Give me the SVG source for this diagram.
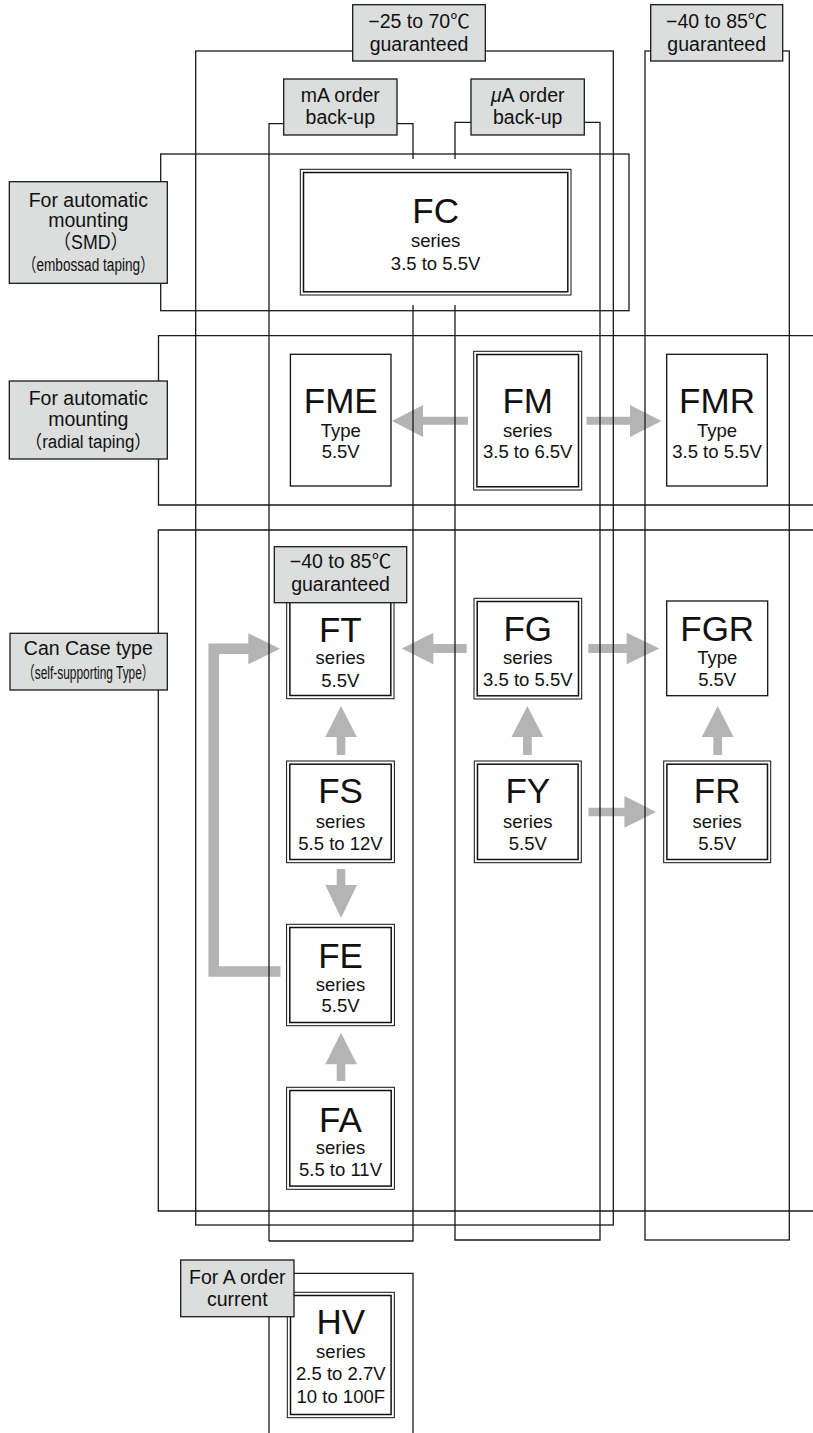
<svg xmlns="http://www.w3.org/2000/svg" width="813" height="1433" viewBox="0 0 813 1433">
<style>
text{font-family:"Liberation Sans",Arial,"Noto Sans CJK JP",sans-serif;fill:#111;text-anchor:middle}
.ln{fill:none;stroke:#1a1a1a;stroke-width:1.3}
.lbl{fill:#dcdddd;stroke:#1a1a1a;stroke-width:1.3}
.lt{font-size:19.5px}
.nt{font-size:18px}
.o{fill:#fff;stroke:#111;stroke-width:1}
.i{fill:none;stroke:#111;stroke-width:1.5}
.s{fill:#fff;stroke:#111;stroke-width:1.3}
.big{font-size:35px}
.sm{font-size:18.5px}
.arr{fill:#b4b4b4}
</style>
<rect width="813" height="1433" fill="#fff"/>

<g id="rows">
  <rect class="ln" x="160.7" y="154" width="468.3" height="156.7"/>
  <path class="ln" d="M815,335.7 H158.5 V505 H815"/>
  <path class="ln" d="M815,530 H158.3 V1211 H815"/>
</g>

<g id="connectors">
  <polygon class="arr" points="468,416.7 423,416.7 423,405 392,421 423,437 423,424.7 468,424.7"/>
  <polygon class="arr" points="586.5,416.7 630,416.7 630,405 661.5,421 630,437 630,424.7 586.5,424.7"/>
  <polygon class="arr" points="466.7,644 433.3,644 433.3,632.7 401.7,648.5 433.3,664.3 433.3,653 466.7,653"/>
  <polygon class="arr" points="588.3,644 626.7,644 626.7,632.7 659.3,648.5 626.7,664.3 626.7,653 588.3,653"/>
  <polygon class="arr" points="336.7,755 336.7,737 325.3,737 341,706 356.9,737 345.3,737 345.3,755"/>
  <polygon class="arr" points="523,755 523,737 511.5,737 527.4,706 543.3,737 531.8,737 531.8,755"/>
  <polygon class="arr" points="713.3,755 713.3,737 701.8,737 717.7,706 733.6,737 722.1,737 722.1,755"/>
  <polygon class="arr" points="588.5,807.8 624.4,807.8 624.4,796 656,812 624.4,827.8 624.4,816.2 588.5,816.2"/>
  <polygon class="arr" points="336.7,869 345.3,869 345.3,885 357,885 341,918 325.3,885 336.7,885"/>
  <polygon class="arr" points="336.7,1081 336.7,1064.3 325.3,1064.3 341,1032.7 357,1064.3 345.3,1064.3 345.3,1081"/>
  <path d="M280.5,971.5 H213.7 V648.8 H249" fill="none" stroke="#b4b4b4" stroke-width="10.5" stroke-linejoin="miter"/>
  <polygon class="arr" points="248.3,633.3 280,648.8 248.3,664.3"/>
</g>

<g id="frames">
  <rect class="ln" x="195.7" y="51" width="417.6" height="1174"/>
  <path class="ln" d="M269,1241 V123.7 H413 V159 M413,305 V1241 H269"/>
  <path class="ln" d="M455,159 V122.3 H600 V1240 H455 V305"/>
  <rect class="ln" x="645" y="51" width="144.3" height="1189"/>
  <path class="ln" d="M269,1440 V1273.3 H413 V1440"/>
</g>

<g id="node-FC">
  <rect class="o" x="300.3" y="169.3" width="270.7" height="125.7"/>
  <rect class="i" x="303.5" y="172.5" width="264.3" height="119.3"/>
  <text class="big" x="435.6" y="223.3">FC</text>
  <text class="sm" x="435.6" y="246.7">series</text>
  <text class="sm" x="435.6" y="270">3.5 to 5.5V</text>
</g>
<g id="node-FME">
  <rect class="s" x="290.4" y="354.3" width="100.6" height="131.7"/>
  <text class="big" x="340.7" y="413.3">FME</text>
  <text class="sm" x="340.7" y="436.7">Type</text>
  <text class="sm" x="340.7" y="458.3">5.5V</text>
</g>
<g id="node-FM">
  <rect class="o" x="473.7" y="351.3" width="108" height="138.7"/>
  <rect class="i" x="476.9" y="354.5" width="101.6" height="132.3"/>
  <text class="big" x="527.7" y="413.3">FM</text>
  <text class="sm" x="527.7" y="436.7">series</text>
  <text class="sm" x="527.7" y="458.3">3.5 to 6.5V</text>
</g>
<g id="node-FMR">
  <rect class="s" x="666.7" y="354.3" width="100.6" height="131.7"/>
  <text class="big" x="717" y="413.3">FMR</text>
  <text class="sm" x="717" y="436.7">Type</text>
  <text class="sm" x="717" y="458.3">3.5 to 5.5V</text>
</g>
<g id="node-FT">
  <rect class="o" x="286.7" y="596" width="107.3" height="102.7"/>
  <rect class="i" x="289.9" y="599.2" width="100.9" height="96.3"/>
  <text class="big" x="340.3" y="641.7">FT</text>
  <text class="sm" x="340.3" y="664">series</text>
  <text class="sm" x="340.3" y="686.7">5.5V</text>
</g>
<g id="node-FG">
  <rect class="o" x="474" y="598.3" width="107.7" height="100.7"/>
  <rect class="i" x="477.2" y="601.5" width="101.3" height="94.3"/>
  <text class="big" x="527.8" y="640.7">FG</text>
  <text class="sm" x="527.8" y="664">series</text>
  <text class="sm" x="527.8" y="685.7">3.5 to 5.5V</text>
</g>
<g id="node-FGR">
  <rect class="s" x="666.7" y="601" width="101" height="94.7"/>
  <text class="big" x="717.2" y="640.7">FGR</text>
  <text class="sm" x="717.2" y="664">Type</text>
  <text class="sm" x="717.2" y="685.7">5.5V</text>
</g>
<g id="node-FS">
  <rect class="o" x="286.6" y="761" width="107.8" height="101.7"/>
  <rect class="i" x="289.8" y="764.2" width="101.4" height="95.3"/>
  <text class="big" x="340.5" y="803.3">FS</text>
  <text class="sm" x="340.5" y="828.3">series</text>
  <text class="sm" x="340.5" y="850">5.5 to 12V</text>
</g>
<g id="node-FY">
  <rect class="o" x="474.3" y="761" width="107" height="101.7"/>
  <rect class="i" x="477.5" y="764.2" width="100.6" height="95.3"/>
  <text class="big" x="527.8" y="803.3">FY</text>
  <text class="sm" x="527.8" y="828.3">series</text>
  <text class="sm" x="527.8" y="850">5.5V</text>
</g>
<g id="node-FR">
  <rect class="o" x="663.7" y="761" width="107" height="101.7"/>
  <rect class="i" x="666.9" y="764.2" width="100.6" height="95.3"/>
  <text class="big" x="717.2" y="803.3">FR</text>
  <text class="sm" x="717.2" y="828.3">series</text>
  <text class="sm" x="717.2" y="850">5.5V</text>
</g>
<g id="node-FE">
  <rect class="o" x="286.6" y="924.3" width="107.8" height="101.4"/>
  <rect class="i" x="289.8" y="927.5" width="101.4" height="95"/>
  <text class="big" x="340.5" y="968.3">FE</text>
  <text class="sm" x="340.5" y="991">series</text>
  <text class="sm" x="340.5" y="1012.3">5.5V</text>
</g>
<g id="node-FA">
  <rect class="o" x="286.6" y="1087.3" width="107.8" height="102"/>
  <rect class="i" x="289.8" y="1090.5" width="101.4" height="95.6"/>
  <text class="big" x="340.5" y="1131.7">FA</text>
  <text class="sm" x="340.5" y="1154">series</text>
  <text class="sm" x="340.5" y="1176">5.5 to 11V</text>
</g>
<g id="node-HV">
  <rect class="o" x="287.3" y="1292.3" width="107" height="125.4"/>
  <rect class="i" x="290.5" y="1295.5" width="100.6" height="119"/>
  <text class="big" x="340.8" y="1334.3">HV</text>
  <text class="sm" x="340.8" y="1358.3">series</text>
  <text class="sm" x="340.8" y="1380">2.5 to 2.7V</text>
  <text class="sm" x="340.8" y="1402.7">10 to 100F</text>
</g>

<g id="label-temp-25-70">
  <rect class="lbl" x="352.7" y="4.7" width="132.6" height="56.3"/>
  <text class="lt" x="419" y="28.3">−25 to 70℃</text>
  <text class="lt" x="419" y="50.5">guaranteed</text>
</g>
<g id="label-temp-40-85">
  <rect class="lbl" x="650.7" y="4.7" width="132" height="56.3"/>
  <text class="lt" x="716.7" y="28.3">−40 to 85℃</text>
  <text class="lt" x="716.7" y="50.5">guaranteed</text>
</g>
<g id="label-mA">
  <rect class="lbl" x="283.7" y="79" width="113.3" height="56"/>
  <text class="lt" x="340.3" y="101.7">mA order</text>
  <text class="lt" x="340.3" y="124">back-up</text>
</g>
<g id="label-uA">
  <rect class="lbl" x="471" y="79" width="113.3" height="56"/>
  <text class="lt" x="527.7" y="101.7"><tspan font-style="italic">μ</tspan>A order</text>
  <text class="lt" x="527.7" y="124">back-up</text>
</g>
<g id="label-SMD">
  <rect class="lbl" x="9.3" y="181.7" width="158" height="101.6"/>
  <text class="lt" x="88.3" y="206.5">For automatic</text>
  <text class="lt" x="88.3" y="227">mounting</text>
  <text class="lt" x="90.8" y="249" textLength="75" lengthAdjust="spacingAndGlyphs">（SMD）</text>
  <text class="nt" x="88.3" y="270.5" textLength="131" lengthAdjust="spacingAndGlyphs">（embossad taping）</text>
</g>
<g id="label-radial">
  <rect class="lbl" x="9.3" y="381" width="158" height="78"/>
  <text class="lt" x="88.3" y="405">For automatic</text>
  <text class="lt" x="88.3" y="426">mounting</text>
  <text class="nt" x="88.3" y="448" textLength="126" lengthAdjust="spacingAndGlyphs">（radial taping）</text>
</g>
<g id="label-can">
  <rect class="lbl" x="10" y="633.3" width="157.3" height="56.7"/>
  <text class="lt" x="88.3" y="655">Can Case type</text>
  <text class="nt" x="88.3" y="679.3" textLength="131" lengthAdjust="spacingAndGlyphs">（self-supporting Type）</text>
</g>
<g id="label-FT-temp">
  <rect class="lbl" x="274.3" y="546.7" width="132.4" height="56"/>
  <text class="lt" x="340.5" y="568.3">−40 to 85℃</text>
  <text class="lt" x="340.5" y="590.7">guaranteed</text>
</g>
<g id="label-A-order">
  <rect class="lbl" x="180.7" y="1260" width="113.3" height="56.7"/>
  <text class="lt" x="237.3" y="1284">For A order</text>
  <text class="lt" x="237.3" y="1305.5">current</text>
</g>
</svg>
